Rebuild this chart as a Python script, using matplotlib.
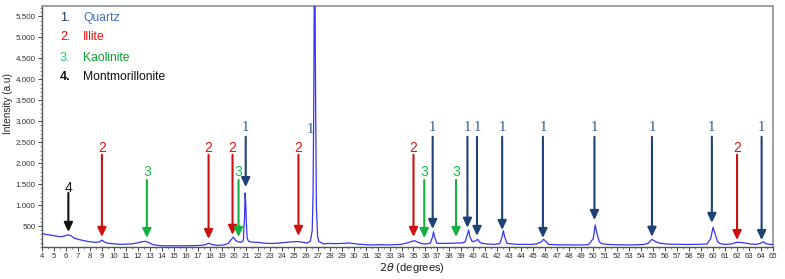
import matplotlib
matplotlib.use("Agg")
import matplotlib.pyplot as plt
from matplotlib.ticker import FixedLocator, MultipleLocator, FuncFormatter

# ---- data ----
two_theta = [4.0, 4.3, 4.7, 5.0, 5.3, 5.6, 5.9, 6.2, 6.4, 6.7, 7.0, 7.5, 8.0, 8.5, 8.8, 9.0, 9.2, 9.5,
             10.0, 10.5, 11.0, 11.5, 12.0, 12.3, 12.6, 12.9, 13.2, 13.6, 14.0, 14.5, 15.0, 15.5, 16.0,
             16.5, 17.0, 17.5, 17.9, 18.2, 18.7, 19.2, 19.55, 19.8, 19.97, 20.15, 20.35, 20.6, 20.8,
             20.9, 20.95, 21.0, 21.05, 21.12, 21.25, 21.6, 22.0, 22.6, 23.2, 23.8, 24.4, 24.9, 25.4,
             25.8, 26.1, 26.4, 26.55, 26.62, 26.68, 26.75, 26.82, 26.9, 27.0, 27.1, 27.5, 28.0, 28.5,
             29.0, 29.7, 30.3, 31.0, 31.6, 32.2, 32.8, 33.4, 33.9, 34.4, 34.8, 35.1, 35.4, 35.7, 36.0,
             36.4, 36.6, 36.67, 36.75, 36.95, 37.4, 37.9, 38.3, 38.6, 39.0, 39.3, 39.5, 39.6, 39.7,
             39.9, 40.2, 40.35, 40.5, 40.7, 41.2, 41.8, 42.2, 42.4, 42.5, 42.6, 42.8, 43.3, 43.8,
             44.3, 44.8, 45.3, 45.7, 45.85, 45.95, 46.26, 46.8, 47.4, 48.0, 48.35, 49.0, 49.6, 50.0,
             50.16, 50.3, 50.5, 50.7, 51.1, 51.7, 52.4, 53.0, 53.6, 54.2, 54.6, 54.9, 55.2, 55.6,
             56.2, 56.8, 57.25, 57.8, 58.4, 59.0, 59.5, 59.8, 60.0, 60.15, 60.37, 60.6, 60.9, 61.5,
             62.0, 62.4, 62.8, 63.2, 63.6, 64.0, 64.2, 64.4, 64.7, 65.0]
intensity = [330, 300, 285, 270, 255, 245, 265, 290, 270, 210, 185, 150, 125, 110, 125, 165, 120, 90,
             75, 65, 68, 75, 100, 125, 135, 110, 60, 40, 30, 28, 30, 27, 30,
             32, 35, 45, 90, 55, 38, 50, 90, 180, 235, 160, 125, 112, 150,
             700, 1290, 1050, 600, 200, 130, 115, 110, 90, 85, 95, 110, 125, 130,
             110, 95, 140, 400, 1290, 3500, 8000, 4000, 900, 250, 130, 75, 85, 80,
             85, 95, 70, 55, 50, 55, 50, 55, 62, 90, 130, 150, 110, 80, 72,
             90, 250, 365, 250, 90, 85, 88, 90, 95, 95, 120, 300, 405, 250,
             127, 150, 184, 120, 88, 70, 64, 80, 250, 390, 250, 88, 70, 62,
             64, 60, 75, 130, 184, 160, 64, 55, 50, 52, 48, 50, 55, 200,
             525, 330, 127, 80, 64, 55, 50, 48, 52, 60, 90, 184, 127, 88,
             70, 65, 64, 60, 62, 65, 72, 200, 470, 327, 127, 80, 64, 70,
             112, 105, 88, 70, 64, 90, 127, 80, 64, 60]

legend_numbers = ["1.", "2.", "3.", "4."]
legend_names = ["Quartz", "Illite", "Kaolinite", "Montmorillonite"]

arrow_pos = [6.2, 9.0, 12.75, 17.9, 19.9, 20.4, 21.0, 25.4, 35.0, 35.9, 36.6, 38.55, 39.5, 40.3,
             42.4, 45.8, 50.1, 54.9, 59.9, 62.0, 64.05]
arrow_id = [4, 2, 3, 2, 2, 3, 1, 2, 2, 3, 1, 3, 1, 1, 1, 1, 1, 1, 1, 2, 1]
arrow_tip = [360, 240, 215, 190, 290, 240, 1430, 265, 240, 215, 430, 240, 460, 265, 405, 215,
             645, 245, 575, 165, 165]
label_height = {1: 2840, 2: 2365, 3: 1790, 4: 1410}
shaft_top = {1: 2630, 2: 2200, 3: 1600, 4: 1290}
peak_label_pos = (26.37, 2795)

y_ticks = [500, 1000, 1500, 2000, 2500, 3000, 3500, 4000, 4500, 5000, 5500]
x_ticks = list(range(4, 66))

# ---- style ----
num_colors = {1: "#1f3d6e", 2: "#e01010", 3: "#19d060", 4: "#111111"}
name_colors = {1: "#4472c4", 2: "#e81010", 3: "#0aa030", 4: "#111111"}
arrow_colors = {1: "#1d4275", 2: "#cc1111", 3: "#16b040", 4: "#111111"}
lab_colors = {1: "#2e5a8f", 2: "#dd1515", 3: "#16c050", 4: "#111111"}

plt.rcParams['font.family'] = ['Liberation Sans', 'DejaVu Sans']

fig = plt.figure(figsize=(7.85, 2.79), dpi=100)
ax = fig.add_axes([42 / 785, 1 - 247 / 279, 731 / 785, 241 / 279])

ax.plot(two_theta, intensity, color="#3535f5", lw=0.9, zorder=3)

ax.set_xlim(4, 65)
ax.set_ylim(0, 5750)

ax.xaxis.set_major_locator(FixedLocator(x_ticks))
ax.xaxis.set_minor_locator(MultipleLocator(0.5))
ax.yaxis.set_major_locator(FixedLocator(y_ticks))
ax.yaxis.set_minor_locator(MultipleLocator(100))
ax.yaxis.set_major_formatter(FuncFormatter(lambda v, p: f"{int(v):,}".replace(",", ".")))
ax.tick_params(axis='x', which='major', length=3, width=0.7, labelsize=5.6, pad=1.5,
               colors="#444444", labelcolor="#333333")
ax.tick_params(axis='y', which='major', length=3, width=0.7, labelsize=5.8, pad=1.5,
               colors="#444444", labelcolor="#333333")
ax.tick_params(which='minor', length=1.5, width=0.5, colors="#666666")

for s in ["left", "bottom"]:
    ax.spines[s].set_color("#555555")
    ax.spines[s].set_linewidth(1.0)
for s in ["top", "right"]:
    ax.spines[s].set_color("#999999")
    ax.spines[s].set_linewidth(1.3)

# arrows
for x, mid, tip in zip(arrow_pos, arrow_id, arrow_tip):
    c = arrow_colors[mid]
    ax.annotate("", xy=(x, tip), xytext=(x, shaft_top[mid]),
                arrowprops=dict(arrowstyle="-|>,head_length=0.55,head_width=0.26",
                                color=c, lw=1.5, shrinkA=0, shrinkB=0), zorder=4)
    if mid == 1:
        fam, fs = ['Liberation Serif', 'DejaVu Serif'], 10.5
    else:
        fam, fs = ['Liberation Sans', 'DejaVu Sans'], 10
    ax.text(x, label_height[mid], str(mid), color=lab_colors[mid], fontsize=fs,
            family=fam, ha="center", va="center", zorder=5)

ax.text(peak_label_pos[0], peak_label_pos[1], "1", color=lab_colors[1], fontsize=10.5,
        family=['Liberation Serif', 'DejaVu Serif'], ha="center", va="center", zorder=5)

# legend text
leg_y = [18.3, 37.3, 57.7, 76.7]
for i, (n, name) in enumerate(zip(legend_numbers, legend_names)):
    k = i + 1
    fig.text(60 / 785, 1 - leg_y[i] / 279, n, color=num_colors[k], fontsize=9,
             ha="left", va="center", fontweight="bold" if k == 4 else "normal")
    fig.text(83 / 785, 1 - leg_y[i] / 279, name, color=name_colors[k], fontsize=8.7,
             ha="left", va="center")

fig.text(8 / 785, 1 - 104 / 279, "Intensity (a.u)", rotation=90, fontsize=7.2,
         ha="center", va="center", color="#222222")
fig.text(412 / 785, 1 - 268 / 279, r"$2\theta$ (degrees)", fontsize=8, ha="center",
         va="center", color="#222222")

fig.savefig("out.png", dpi=100)
